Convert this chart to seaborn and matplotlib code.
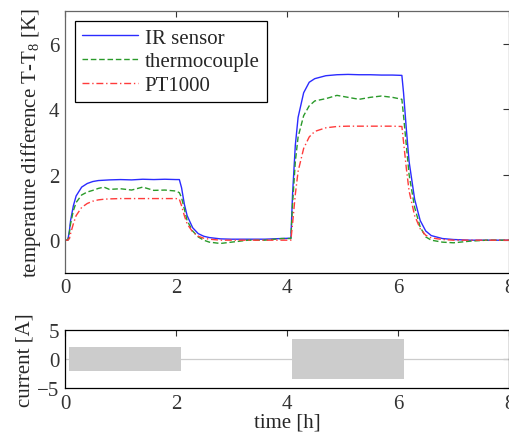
import numpy as np
import pandas as pd
import matplotlib
matplotlib.use("Agg")
import matplotlib.pyplot as plt
import seaborn as sns

# ---- data ----
time_h = [0.0, 0.05, 0.08, 0.1, 0.15, 0.2, 0.3, 0.4, 0.5, 0.6, 0.7, 0.8, 1.0, 1.2, 1.4, 1.6,
          1.8, 2.0, 2.06, 2.1, 2.15, 2.2, 2.3, 2.4, 2.5, 2.6, 2.8, 3.0, 3.3, 3.6, 3.9, 4.07,
          4.1, 4.15, 4.2, 4.3, 4.4, 4.5, 4.7, 4.9, 5.1, 5.3, 5.5, 5.7, 5.9, 6.07, 6.1, 6.15,
          6.2, 6.3, 6.4, 6.5, 6.6, 6.8, 7.0, 7.3, 7.6, 8.0]
ir_sensor = [0.0, 0.0, 0.3, 0.6, 1.05, 1.35, 1.62, 1.73, 1.79, 1.82, 1.83, 1.84, 1.85, 1.84, 1.86, 1.85,
             1.86, 1.85, 1.85, 1.6, 1.1, 0.75, 0.38, 0.2, 0.12, 0.08, 0.04, 0.03, 0.03, 0.03, 0.05, 0.06,
             1.4, 2.9, 3.75, 4.5, 4.82, 4.93, 5.02, 5.05, 5.06, 5.05, 5.05, 5.04, 5.04, 5.03, 4.5, 3.4,
             2.4, 1.25, 0.6, 0.28, 0.14, 0.05, 0.02, 0.0, 0.0, 0.0]
thermocouple = [0.0, 0.0, 0.25, 0.5, 0.9, 1.15, 1.38, 1.47, 1.52, 1.58, 1.62, 1.55, 1.57, 1.53, 1.62, 1.52,
                1.53, 1.5, 1.45, 1.3, 0.95, 0.6, 0.28, 0.1, 0.0, -0.06, -0.1, -0.06, 0.0, 0.0, 0.05, 0.05,
                1.1, 2.4, 3.15, 3.8, 4.1, 4.25, 4.32, 4.42, 4.36, 4.3, 4.36, 4.4, 4.36, 4.3, 3.8, 2.9,
                2.0, 1.0, 0.4, 0.1, 0.0, -0.06, -0.08, -0.03, 0.0, 0.0]
pt1000 = [0.0, 0.0, 0.05, 0.2, 0.5, 0.75, 1.0, 1.12, 1.19, 1.23, 1.25, 1.26, 1.27, 1.27, 1.27, 1.27,
          1.27, 1.27, 1.25, 1.05, 0.75, 0.5, 0.25, 0.12, 0.06, 0.03, 0.0, 0.0, 0.0, 0.0, 0.0, 0.0,
          0.5, 1.4, 2.1, 2.8, 3.15, 3.32, 3.43, 3.47, 3.48, 3.48, 3.48, 3.48, 3.48, 3.47, 3.0, 2.2,
          1.5, 0.75, 0.35, 0.15, 0.07, 0.02, 0.0, 0.0, 0.0, 0.0]

current_time = [0.0, 0.07, 0.07, 2.09, 2.09, 4.09, 4.09, 6.11, 6.11, 8.0]
current_amp = [0.0, 0.0, 2.0, 2.0, 0.0, 0.0, 3.5, 3.5, 0.0, 0.0]

series_names = ["IR sensor", "thermocouple", "PT1000"]

# ---- styling ----
sns.set_style("white")
plt.rcParams["font.family"] = ["Liberation Serif", "DejaVu Serif"]
plt.rcParams["mathtext.fontset"] = "custom"
plt.rcParams["mathtext.rm"] = "Liberation Serif"
plt.rcParams["mathtext.it"] = "Liberation Serif"

df = pd.DataFrame({
    "time": time_h * 3,
    "value": ir_sensor + thermocouple + pt1000,
    "sensor": [series_names[0]] * len(time_h) + [series_names[1]] * len(time_h) + [series_names[2]] * len(time_h),
})

fig = plt.figure(figsize=(5.10, 4.39), dpi=100)
ax1 = fig.add_axes([0.1275, 0.376, 0.8705, 0.597])
ax2 = fig.add_axes([0.1275, 0.114, 0.8705, 0.132])

palette = {"IR sensor": "#2b2bff", "thermocouple": "#2a9a2a", "PT1000": "#ff3b3b"}
sns.lineplot(data=df, x="time", y="value", hue="sensor", style="sensor",
             palette=palette,
             dashes={"IR sensor": "", "thermocouple": (4, 2), "PT1000": (5, 2, 1, 2)},
             linewidth=1.0, ax=ax1, legend=True)

ax1.set_xlim(0, 8)
ax1.set_ylim(-1, 7)
ax1.set_xticks([0, 2, 4, 6, 8])
ax1.set_yticks([0, 2, 4, 6])
ax1.set_xlabel("")
ax1.set_ylabel(r"temperature difference T-T$_{8}$ [K]", fontsize=15, labelpad=4)

leg = ax1.legend(loc="upper left", bbox_to_anchor=(0.022, 0.962), borderaxespad=0,
                 fontsize=15, frameon=True, fancybox=False, edgecolor="black", framealpha=1,
                 handlelength=2.7, handletextpad=0.3, borderpad=0.35, labelspacing=0.2)
leg.get_frame().set_linewidth(0.9)

# ---- current plot ----
amp = np.array(current_amp)
ax2.fill_between(current_time, -amp, amp, color="#cccccc", linewidth=0)
ax2.plot([0, 8], [0, 0], color="#cccccc", linewidth=0.9)
ax2.set_xlim(0, 8)
ax2.set_ylim(-5, 5)
ax2.set_xticks([0, 2, 4, 6, 8])
ax2.set_yticks([-5, 0, 5])
ax2.set_xlabel("time [h]", fontsize=15, labelpad=0)
ax2.set_ylabel("current [A]", fontsize=15, labelpad=2)

for ax, spcol in ((ax1, "#666666"), (ax2, "black")):
    ax.tick_params(direction="in", top=True, right=True, length=4, width=0.8,
                   labelsize=15, colors="#333333", pad=4)
    for side, sp in ax.spines.items():
        sp.set_visible(True)
        sp.set_linewidth(0.9)
        sp.set_color(spcol)
ax1.spines["bottom"].set_color("black")

fig.savefig("out.png", dpi=100)
